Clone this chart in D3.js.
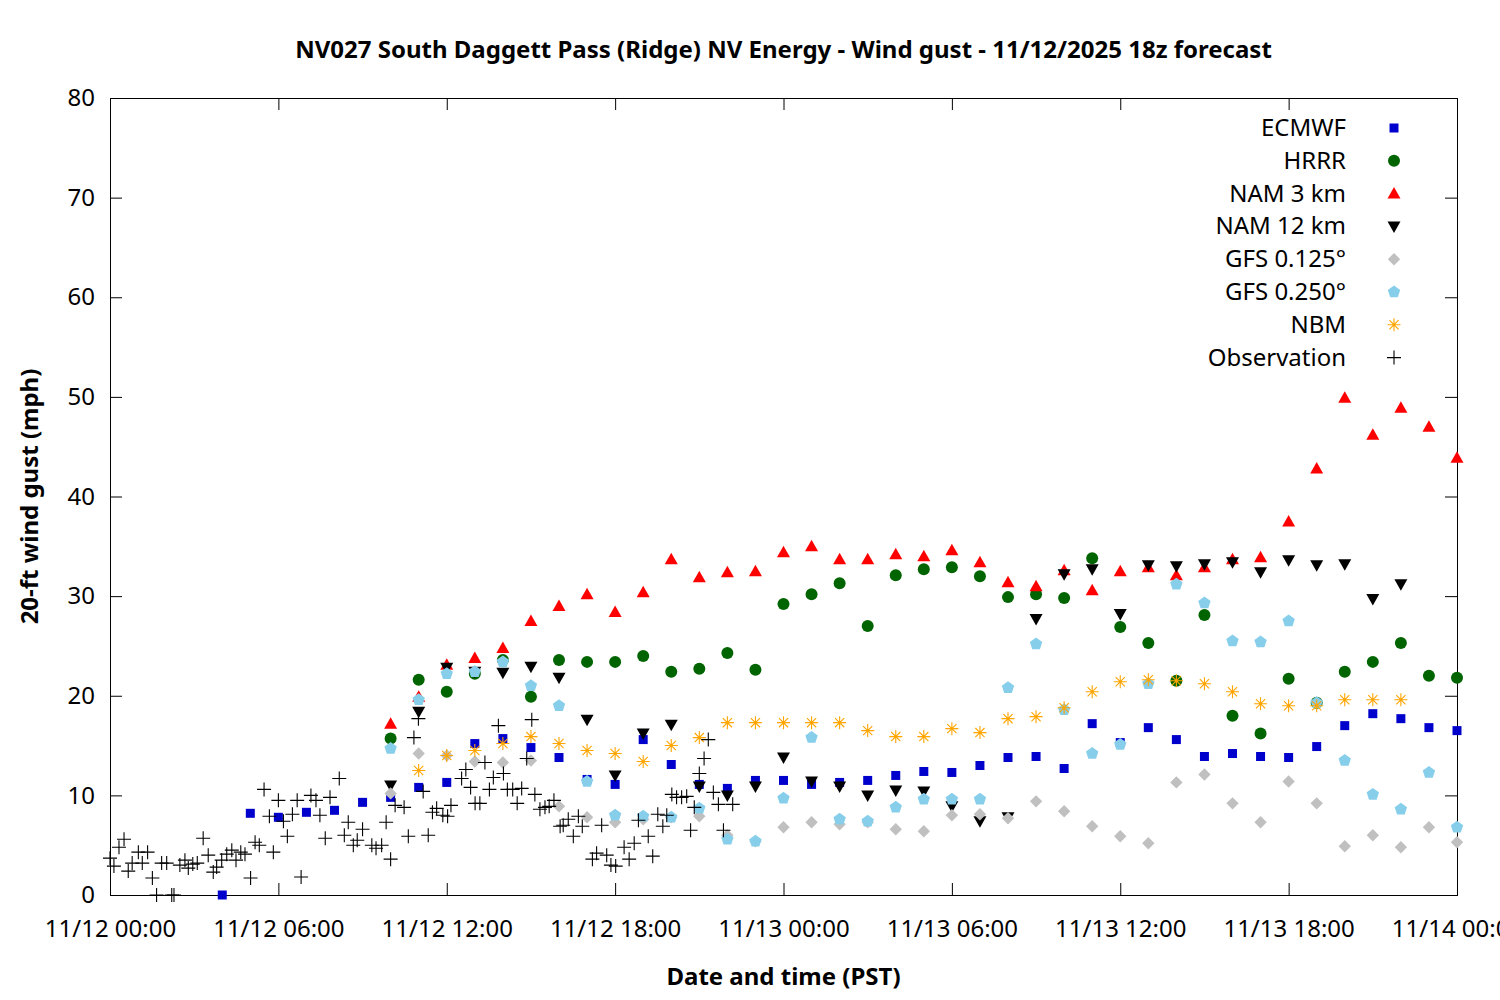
<!DOCTYPE html>
<html>
<head>
<meta charset="utf-8">
<script src="https://cdn.jsdelivr.net/npm/d3@7"></script>
<style>
  body { margin: 0; background: #fff; }
  text { font-family: 'Noto Sans', sans-serif; fill: #000; }
</style>
</head>
<body>
<svg id="chart" width="1500" height="1000"></svg>
<script>
// hours after 11/12 00:00 PST
const ecmwfStart = 4
const ecmwf = [0.0, 8.2, 7.8, 8.3, 8.5, 9.3, 9.8, 10.8, 11.3, 15.2, 15.7, 14.8, 13.8, 11.6, 11.1, 15.6, 13.1, 11.1, 10.7, 11.5,
  11.5, 11.1, 11.3, 11.5, 12.0, 12.4, 12.3, 13.0, 13.8, 13.9, 12.7, 17.2, 15.3,
  16.8, 15.6, 13.9, 14.2, 13.9, 13.8, 14.9, 17.0, 18.2, 17.7, 16.8, 16.5]

const hrrrStart = 10
const hrrr = [15.7, 21.6, 20.4, 22.2, 23.6, 19.9, 23.6, 23.4, 23.4, 24.0, 22.4, 22.7, 24.3, 22.6,
  29.2, 30.2, 31.3, 27.0, 32.1, 32.7, 32.9, 32.0, 29.9, 30.2, 29.8, 33.8, 26.9,
  25.3, 21.5, 28.1, 18.0, 16.2, 21.7, 19.3, 22.4, 23.4, 25.3, 22.0, 21.8]

const nam3Start = 10
const nam3 = [17.2, 19.9, 23.1, 23.8, 24.8, 27.5, 29.0, 30.2, 28.4, 30.4, 33.7, 31.9, 32.4, 32.5,
  34.4, 35.0, 33.7, 33.7, 34.2, 34.0, 34.6, 33.4, 31.4, 31.0, 32.6, 30.6, 32.5,
  32.9, 32.1, 32.9, 33.7, 33.9, 37.5, 42.8, 49.9, 46.2, 48.9, 47.0, 43.9]

const nam12Start = 10
const nam12 = [11.0, 18.4, 22.8, 22.4, 22.3, 22.9, 21.8, 17.6, 12.0, 16.2, 17.1, 10.9, 10.0, 10.9,
  13.8, 11.4, 10.9, 10.0, 10.5, 10.4, 8.9, 7.4, 7.8, 27.7, 32.2, 32.7, 28.2,
  33.1, 33.0, 33.2, 33.4, 32.4, 33.6, 33.1, 33.2, 29.7, 31.2]

const gfs125Start = 10
const gfs125 = [10.2, 14.2, 14.0, 13.4, 13.3, 13.5, 8.9, 7.8, 7.3, 7.6, 7.8, 7.9, 6.0, 5.4,
  6.8, 7.3, 7.1, 7.3, 6.6, 6.4, 8.0, 8.1, 7.7, 9.4, 8.4, 6.9, 5.9,
  5.2, 11.3, 12.1, 9.2, 7.3, 11.4, 9.2, 4.9, 6.0, 4.8, 6.8, 5.3]

const gfs250Start = 10
const gfs250 = [14.7, 19.6, 22.2, 22.4, 23.4, 21.0, 19.0, 11.4, 8.0, 7.9, 7.8, 8.7, 5.6, 5.4,
  9.7, 15.8, 7.6, 7.4, 8.8, 9.6, 9.6, 9.6, 20.8, 25.2, 18.6, 14.2, 15.1,
  21.2, 31.2, 29.3, 25.5, 25.4, 27.5, 19.3, 13.5, 10.1, 8.6, 12.3, 6.8]

const nbmStart = 11
const nbm = [12.5, 14.0, 14.5, 15.2, 15.9, 15.2, 14.5, 14.2, 13.4, 15.0, 15.8, 17.3, 17.3,
  17.3, 17.3, 17.3, 16.5, 15.9, 15.9, 16.7, 16.3, 17.7, 17.9, 18.8, 20.4, 21.4,
  21.6, 21.5, 21.2, 20.4, 19.2, 19.0, 19.0, 19.6, 19.6, 19.6]

const obsHours = [0.00, 0.14, 0.32, 0.50, 0.65, 0.79, 1.01, 1.15, 1.34, 1.51, 1.66, 1.84, 2.02, 2.20, 2.28,
  2.49, 2.67, 2.79, 2.95, 3.11, 3.32, 3.50, 3.68, 3.80, 3.98, 4.16, 4.34, 4.49, 4.66, 4.81,
  5.01, 5.17, 5.32, 5.49, 5.68, 5.82, 6.00, 6.18, 6.32, 6.50, 6.67, 6.81, 7.16, 7.34, 7.48,
  7.67, 7.84, 8.17, 8.35, 8.49, 8.67, 8.81, 9.00, 9.33, 9.48, 9.68, 9.84, 10.00, 10.16, 10.48,
  10.63, 10.83, 10.99, 11.16, 11.34, 11.49, 11.64, 11.86, 12.03, 12.15, 12.53, 12.68, 12.85, 13.01, 13.18,
  13.36, 13.52, 13.66, 13.84, 14.02, 14.16, 14.35, 14.51, 14.67, 14.85, 15.03, 15.14, 15.32, 15.50, 15.65,
  15.82, 16.04, 16.15, 16.33, 16.51, 16.69, 16.83, 17.19, 17.34, 17.52, 17.70, 17.85, 18.02, 18.32, 18.50,
  18.68, 18.83, 19.18, 19.34, 19.52, 19.70, 19.84, 20.02, 20.19, 20.37, 20.55, 20.69, 20.82, 21.00, 21.17,
  21.32, 21.50, 21.68, 21.86, 22.19]
const obsValues = [3.7, 2.9, 4.8, 5.6, 2.4, 3.2, 4.3, 3.2, 4.3, 1.7, 0, 3.2, 3.2, 0, 0,
  3.0, 3.5, 2.7, 3.1, 3.2, 5.7, 4.0, 2.3, 2.8, 3.5, 4.1, 4.5, 3.5, 4.3, 4.1,
  1.7, 5.3, 5.0, 10.6, 7.9, 4.3, 9.5, 7.4, 5.9, 8.1, 9.5, 1.8, 10.0, 9.5, 8.0,
  5.7, 9.8, 11.7, 6.0, 7.3, 5.0, 5.5, 6.6, 5.0, 4.7, 5.0, 7.3, 3.6, 9.0, 8.8,
  5.9, 15.8, 17.7, 10.4, 6.0, 8.3, 8.7, 8.0, 7.9, 9.0, 11.7, 12.6, 10.8, 9.2, 9.2,
  13.3, 10.6, 11.8, 17.0, 12.2, 10.6, 10.6, 9.2, 10.7, 13.7, 17.6, 10.1, 8.6, 8.8, 8.9,
  9.5, 6.9, 7.0, 7.6, 5.9, 7.9, 6.9, 3.6, 4.2, 7.0, 4.0, 3.0, 2.9, 4.8, 3.6,
  5.2, 7.5, 5.9, 3.9, 8.1, 6.9, 8.0, 10.1, 9.8, 9.8, 9.9, 6.5, 8.8, 12.2, 13.7,
  15.6, 10.3, 9.1, 6.5, 9.1]

const yTicks = [0, 10, 20, 30, 40, 50, 60, 70, 80]
const titleText = 'NV027 South Daggett Pass (Ridge) NV Energy - Wind gust - 11/12/2025 18z forecast'

const t0 = new Date(2025, 10, 12, 0, 0)
const t1 = new Date(2025, 10, 14, 0, 0)
const atHour = (h) => new Date(t0.getTime() + h * 3600e3)

const margin = { top: 98, right: 43, bottom: 105, left: 110 }
const W = 1500
const H = 1000
const width = W - margin.left - margin.right
const height = H - margin.top - margin.bottom
const fontSize = 24

const svg = d3.select('#chart')
const g = svg.append('g').attr('transform', `translate(${margin.left},${margin.top})`)

const x = d3.scaleTime().domain([t0, t1]).range([0, width])
const y = d3.scaleLinear().domain([0, 80]).range([height, 0])

// symbol paths (gnuplot style)
const pentagon = d3.range(5).map((k) => {
  const a = (-90 + 72 * k) * Math.PI / 180
  return [6.5 * Math.cos(a), 6.5 * Math.sin(a)]
})
const shapes = {
  square: { d: 'M-4.5,-4.5H4.5V4.5H-4.5Z', fill: true },
  circle: { d: d3.symbol(d3.symbolCircle, Math.PI * 36)(), fill: true },
  triUp: { d: 'M0,-6.5L6.5,5L-6.5,5Z', fill: true },
  triDown: { d: 'M0,6.5L6.5,-5L-6.5,-5Z', fill: true },
  diamond: { d: 'M0,-6.2L6.2,0L0,6.2L-6.2,0Z', fill: true },
  pentagon: { d: 'M' + pentagon.map((p) => p.join(',')).join('L') + 'Z', fill: true },
  asterisk: { d: 'M-6.5,0H6.5M0,-6.5V6.5M-4.6,-4.6L4.6,4.6M-4.6,4.6L4.6,-4.6', fill: false },
  plus: { d: 'M-7,0H7M0,-7V7', fill: false }
}

const toPoints = (start, vals) => vals.map((v, i) => ({ h: start + i, v }))

const series = [
  { name: 'ECMWF', color: '#0000cc', shape: 'square', data: toPoints(ecmwfStart, ecmwf) },
  { name: 'HRRR', color: '#006400', shape: 'circle', data: toPoints(hrrrStart, hrrr) },
  { name: 'NAM 3 km', color: '#ff0000', shape: 'triUp', data: toPoints(nam3Start, nam3) },
  { name: 'NAM 12 km', color: '#000000', shape: 'triDown', data: toPoints(nam12Start, nam12) },
  { name: 'GFS 0.125°', color: '#c0c0c0', shape: 'diamond', data: toPoints(gfs125Start, gfs125) },
  { name: 'GFS 0.250°', color: '#87ceeb', shape: 'pentagon', data: toPoints(gfs250Start, gfs250) },
  { name: 'NBM', color: '#ffa500', shape: 'asterisk', data: toPoints(nbmStart, nbm) },
  { name: 'Observation', color: '#000000', shape: 'plus', data: obsHours.map((h, i) => ({ h, v: obsValues[i] })) }
]

const styleMarker = (sel, s) => {
  const shp = shapes[s.shape]
  sel.attr('d', shp.d)
  if (shp.fill) sel.attr('fill', s.color).attr('stroke', 'none')
  else sel.attr('fill', 'none').attr('stroke', s.color).attr('stroke-width', 1.1)
}

// axes: ticks inward and mirrored like gnuplot
const xTicks = d3.timeHour.range(t0, d3.timeHour.offset(t1, 1), 6)
const fmt = d3.timeFormat('%m/%d %H:%M')

g.append('g')
  .attr('class', 'axis x-axis')
  .attr('transform', `translate(0,${height})`)
  .call(d3.axisBottom(x).tickValues(xTicks).tickFormat(fmt).tickSizeInner(-12).tickSizeOuter(0).tickPadding(25))
g.append('g')
  .attr('class', 'axis x-axis-top')
  .call(d3.axisTop(x).tickValues(xTicks).tickFormat('').tickSizeInner(-12).tickSizeOuter(0))
g.append('g')
  .attr('class', 'axis y-axis')
  .call(d3.axisLeft(y).tickValues(yTicks).tickSizeInner(-12).tickSizeOuter(0).tickPadding(15))
g.append('g')
  .attr('class', 'axis y-axis-right')
  .attr('transform', `translate(${width},0)`)
  .call(d3.axisRight(y).tickValues(yTicks).tickFormat('').tickSizeInner(-12).tickSizeOuter(0))

g.selectAll('.axis .domain').remove()
g.selectAll('.axis line').attr('stroke', '#000').attr('stroke-width', 1)
g.selectAll('.axis text').attr('font-family', "'Noto Sans', sans-serif").attr('font-size', fontSize).attr('fill', '#000')

g.append('rect')
  .attr('x', 0.5).attr('y', 0.5)
  .attr('width', width).attr('height', height)
  .attr('fill', 'none').attr('stroke', '#000').attr('stroke-width', 1)

// points
const plot = g.append('g').attr('class', 'points')
series.forEach((s) => {
  plot.append('g')
    .selectAll('path')
    .data(s.data)
    .join('path')
    .attr('transform', (d) => `translate(${x(atHour(d.h))},${y(d.v)})`)
    .call(styleMarker, s)
})

// legend
const legend = g.append('g').attr('class', 'legend')
series.forEach((s, i) => {
  const ly = 30 + i * 32.8
  legend.append('text')
    .text(s.name)
    .attr('x', 1236)
    .attr('y', ly + 8)
    .attr('text-anchor', 'end')
    .attr('font-size', fontSize)
  legend.append('path')
    .attr('transform', `translate(1284,${ly})`)
    .call(styleMarker, s)
})

// labels
svg.append('text')
  .text(titleText)
  .attr('x', margin.left + width / 2)
  .attr('y', 58)
  .attr('text-anchor', 'middle')
  .attr('font-size', fontSize)
  .attr('font-weight', 'bold')
svg.append('text')
  .text('Date and time (PST)')
  .attr('x', margin.left + width / 2)
  .attr('y', 985)
  .attr('text-anchor', 'middle')
  .attr('font-size', fontSize)
  .attr('font-weight', 'bold')
svg.append('text')
  .text('20-ft wind gust (mph)')
  .attr('transform', `translate(38,${margin.top + height / 2})rotate(-90)`)
  .attr('text-anchor', 'middle')
  .attr('font-size', fontSize)
  .attr('font-weight', 'bold')
</script>
</body>
</html>
